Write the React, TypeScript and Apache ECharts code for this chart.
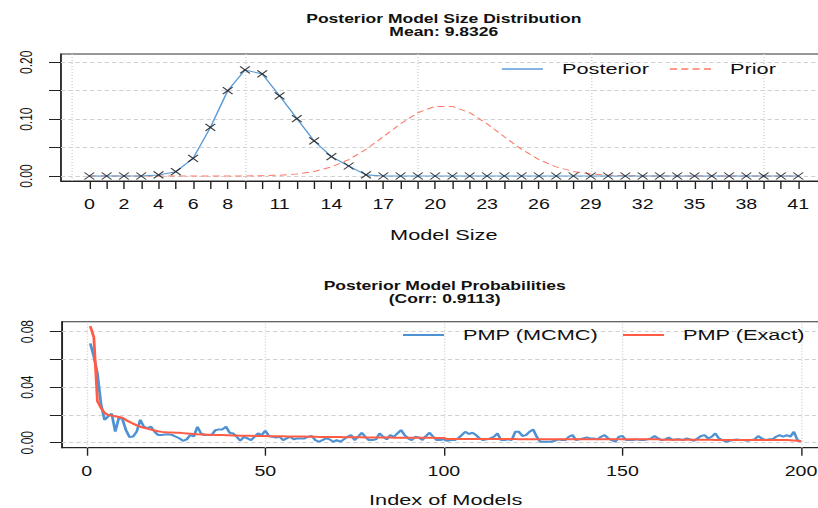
import React, { useEffect, useRef } from "react";
import * as echarts from "echarts";

// ---------- data ----------
const modelSizes = [0, 1, 2, 3, 4, 5, 6, 7, 8, 9, 10, 11, 12, 13, 14, 15, 16, 17, 18, 19, 20, 21, 22, 23, 24, 25, 26, 27, 28, 29, 30, 31, 32, 33, 34, 35, 36, 37, 38, 39, 40, 41];
const sizeTickLabels = [0, 2, 4, 6, 8, 11, 14, 17, 20, 23, 26, 29, 32, 35, 38, 41];
const sizeGridLines = [-1, 9, 19, 29, 39];
const posteriorProb = [
  0, 0, 0, 0, 0.0018, 0.0076, 0.031, 0.0856, 0.15, 0.1865,
  0.1795, 0.141, 0.101, 0.0616, 0.034, 0.0176, 0.002, 0, 0, 0,
  0, 0, 0, 0, 0, 0, 0, 0, 0, 0,
  0, 0, 0, 0, 0, 0, 0, 0, 0, 0,
  0, 0,
];
const priorProb = [
  0, 0, 0, 0, 0, 0, 0, 0, 0.00004, 0.00016,
  0.00051, 0.0014, 0.0036, 0.008, 0.016, 0.0288, 0.0469, 0.069, 0.0919, 0.1113,
  0.1224, 0.1224, 0.1113, 0.0919, 0.069, 0.0469, 0.0288, 0.016, 0.008, 0.0036,
  0.0014, 0.00051, 0.00016, 0.00004, 0, 0, 0, 0, 0, 0,
  0, 0,
];
const sizeYTicks = [0, 0.05, 0.1, 0.15, 0.2];
const sizeYLabels = [0, 0.1, 0.2];

const pmpMcmc = [
  0.0716, 0.062, 0.05, 0.028, 0.0165, 0.019, 0.021, 0.008, 0.018, 0.017,
  0.009, 0.004, 0.0045, 0.008, 0.0165, 0.0115, 0.0105, 0.0115, 0.008, 0.0055,
  0.0055, 0.006, 0.006, 0.0055, 0.0043, 0.003, 0.0014, 0.0024, 0.0055, 0.0045,
  0.0115, 0.0067, 0.0055, 0.0055, 0.0055, 0.009, 0.0096, 0.0096, 0.0115, 0.0072,
  0.0067, 0.0043, 0.0014, 0.0043, 0.0031, 0.0019, 0.0043, 0.0067, 0.0055, 0.0087,
  0.0048, 0.0043, 0.0038, 0.0043, 0.0019, 0.0031, 0.0043, 0.0024, 0.0031, 0.0031,
  0.0031, 0.0043, 0.0048, 0.0019, 0.0007, 0.0019, 0.0031, 0.0024, 0.0007, 0.0019,
  0.0007, 0.0024, 0.0043, 0.0055, 0.0019, 0.0043, 0.0072, 0.0043, 0.0019, 0.0019,
  0.0024, 0.0067, 0.0043, 0.0024, 0.0055, 0.0043, 0.0067, 0.0091, 0.0055, 0.0031,
  0.0019, 0.0043, 0.0038, 0.0019, 0.0048, 0.0072, 0.0043, 0.0019, 0.0019, 0.0024,
  0.0014, 0.0019, 0.0019, 0.0031, 0.0055, 0.0079, 0.0062, 0.0072, 0.0055, 0.0031,
  0.0019, 0.0024, 0.0031, 0.0043, 0.0067, 0.0019, 0.0019, 0.0024, 0.0019, 0.0079,
  0.0079, 0.0048, 0.0055, 0.0079, 0.0096, 0.0043, 0.0007, 0.0007, 0.0007, 0.0007,
  0.0014, 0.0024, 0.0019, 0.0019, 0.0043, 0.0055, 0.0019, 0.0024, 0.0031, 0.0038,
  0.0031, 0.0031, 0.0024, 0.0043, 0.0055, 0.0031, 0.0019, 0.0007, 0.0043, 0.0048,
  0.0019, 0.0019, 0.0019, 0.0024, 0.0019, 0.0019, 0.0024, 0.0031, 0.0048, 0.0031,
  0.0019, 0.0024, 0.0038, 0.0019, 0.0024, 0.0024, 0.0019, 0.0031, 0.0024, 0.0014,
  0.0031, 0.0048, 0.0055, 0.0031, 0.0043, 0.0067, 0.0031, 0.0019, 0.0007, 0.0014,
  0.0019, 0.0024, 0.0019, 0.0019, 0.0014, 0.0019, 0.0024, 0.0048, 0.0031, 0.0019,
  0.0024, 0.0024, 0.0043, 0.0055, 0.0043, 0.0055, 0.0043, 0.0079, 0.0019, 0.0007,
];
const pmpExact = [
  0.084, 0.076, 0.03, 0.025, 0.0215, 0.02, 0.0195, 0.019, 0.0185, 0.018,
  0.0163, 0.015, 0.0137, 0.0125, 0.0115, 0.0108, 0.0101, 0.0094, 0.0088, 0.0082,
  0.0078, 0.0076, 0.0074, 0.0073, 0.0072, 0.0071, 0.0069, 0.0067, 0.0065, 0.0063,
  0.0061, 0.006, 0.0059, 0.0058, 0.0057, 0.0056, 0.0055, 0.0055, 0.0054, 0.0053,
  0.0052, 0.0052, 0.0051, 0.0051, 0.005, 0.005, 0.0049, 0.0049, 0.0048, 0.0048,
  0.0047, 0.0047, 0.0046, 0.0046, 0.0046, 0.0045, 0.0045, 0.0045, 0.0044, 0.0044,
  0.0044, 0.0043, 0.0043, 0.0043, 0.0042, 0.0042, 0.0042, 0.0041, 0.0041, 0.0041,
  0.0041, 0.004, 0.004, 0.004, 0.0039, 0.0039, 0.0039, 0.0038, 0.0038, 0.0038,
  0.0038, 0.0037, 0.0037, 0.0037, 0.0037, 0.0036, 0.0036, 0.0036, 0.0036, 0.0036,
  0.0036, 0.0036, 0.0035, 0.0035, 0.0035, 0.0035, 0.0035, 0.0034, 0.0034, 0.0034,
  0.0026, 0.0026, 0.0026, 0.0026, 0.0026, 0.0026, 0.0026, 0.0026, 0.0026, 0.0026,
  0.0026, 0.0026, 0.0026, 0.0026, 0.0026, 0.0026, 0.0026, 0.0026, 0.0026, 0.0026,
  0.0025, 0.0025, 0.0025, 0.0025, 0.0025, 0.0025, 0.0025, 0.0025, 0.0025, 0.0025,
  0.0025, 0.0025, 0.0025, 0.0025, 0.0025, 0.0025, 0.0025, 0.0025, 0.0025, 0.0025,
  0.0024, 0.0024, 0.0024, 0.0024, 0.0024, 0.0024, 0.0024, 0.0024, 0.0024, 0.0024,
  0.0024, 0.0024, 0.0024, 0.0024, 0.0024, 0.0024, 0.0024, 0.0024, 0.0024, 0.0024,
  0.0022, 0.0022, 0.0022, 0.0022, 0.0022, 0.0022, 0.0022, 0.0022, 0.0022, 0.0022,
  0.0022, 0.0022, 0.0022, 0.0022, 0.0022, 0.002, 0.002, 0.002, 0.002, 0.002,
  0.002, 0.002, 0.002, 0.002, 0.002, 0.002, 0.002, 0.002, 0.002, 0.002,
  0.0019, 0.0019, 0.0019, 0.0019, 0.0019, 0.0019, 0.0018, 0.0016, 0.0014, 0.0012,
];
const indexTicks = [0, 50, 100, 150, 200];
const pmpYTicks = [0, 0.02, 0.04, 0.06, 0.08];
const pmpYLabels = [0, 0.04, 0.08];

// ---------- layout (page is stretched horizontally like the reference) ----------
const W = 584;
const H = 508;
const S = 818 / W;
const u = (px: number) => px / S;
const FONT = '"Liberation Sans", Arial, Helvetica, sans-serif';
const INK = "#111";
const BLUE_TOP = "#5b9bd5";
const BLUE = "#4f92d3";
const RED = "#ff5b45";
const RED_LIGHT = "#ff7a68";
const GRID_COLOR = "#d0d0d0";

export default function App() {
  const ref = useRef<HTMLDivElement>(null);

  useEffect(() => {
    if (!ref.current) return;
    const chart = echarts.init(ref.current, null, { renderer: "svg", width: W, height: H });

    const postPairs = modelSizes.map((k, i) => [k, posteriorProb[i]]);
    const priorPairs = modelSizes.map((k, i) => [k, priorProb[i]]);
    const mcmcPairs = pmpMcmc.map((v, i) => [i + 1, v]);
    const exactPairs = pmpExact.map((v, i) => [i + 1, v]);

    const hLine = { color: GRID_COLOR, width: 1, type: [3, 2.2] };
    const vLine = { color: GRID_COLOR, width: 1, type: [1, 2] };
    const markGrid = (xs: number[], ys: number[]) => ({
      silent: true,
      z: 1,
      symbol: ["none", "none"],
      label: { show: false },
      emphasis: { disabled: true },
      animation: false,
      data: [
        ...xs.map((v) => ({ xAxis: v, lineStyle: vLine })),
        ...ys.map((v) => ({ yAxis: v, lineStyle: hLine })),
      ],
    });

    const axisLineStyle = { color: "#222", width: 1 };
    const tickLabel = { color: INK, fontFamily: FONT };

    const legendBase = {
      padding: 0,
      itemHeight: 1.5,
      itemWidth: u(41),
      symbolKeepAspect: false,
      selectedMode: false,
      itemStyle: { borderWidth: 0 },
      textStyle: { fontSize: 15.5, fontFamily: FONT, color: INK, padding: [0, 0, 0, 8.6] },
    };
    const dashIcon = "path://M0 0h5v1h-5z M8 0h5v1h-5z M16 0h5v1h-5z M24 0h5v1h-5z";
    const solidIcon = "path://M0 0H30V1H0Z";
    const titleStyle = { fontSize: 12.5, fontWeight: "bold", lineHeight: 13, color: INK, fontFamily: FONT };

    const option: any = {
      animation: false,
      backgroundColor: "#ffffff",
      textStyle: { fontFamily: FONT },
      title: [
        {
          text: "Posterior Model Size Distribution\nMean: 9.8326",
          left: u(443.8),
          top: 12,
          textAlign: "center",
          padding: 0,
          textStyle: titleStyle,
        },
        {
          text: "Posterior Model Probabilities\n(Corr: 0.9113)",
          left: u(444.7),
          top: 278.5,
          textAlign: "center",
          padding: 0,
          textStyle: titleStyle,
        },
      ],
      legend: [
        { ...legendBase, left: u(502), top: 61, data: [{ name: "Posterior", icon: solidIcon }] },
        { ...legendBase, left: u(670), top: 61, data: [{ name: "Prior", icon: dashIcon }] },
        { ...legendBase, itemHeight: 2, left: u(403), top: 327, data: [{ name: "PMP (MCMC)", icon: solidIcon }] },
        { ...legendBase, itemHeight: 2, left: u(623), top: 327, data: [{ name: "PMP (Exact)", icon: solidIcon }] },
      ],
      grid: [
        {
          left: u(61),
          top: 54,
          width: u(765.6),
          height: 127,
          show: true,
          borderColor: "#333",
          borderWidth: 1,
          backgroundColor: "transparent",
          outerBoundsMode: "none",
          containLabel: false,
        },
        {
          left: u(61.84),
          top: 321.7,
          width: u(767.6),
          height: 126,
          show: true,
          borderColor: "#333",
          borderWidth: 1,
          backgroundColor: "transparent",
          outerBoundsMode: "none",
          containLabel: false,
        },
      ],
      xAxis: [
        {
          type: "value",
          gridIndex: 0,
          min: -1.64,
          max: 42.64,
          axisLine: { show: true, onZero: false, lineStyle: axisLineStyle },
          axisTick: { show: true, length: 8, customValues: modelSizes, lineStyle: axisLineStyle },
          axisLabel: { ...tickLabel, customValues: sizeTickLabels, margin: 16, fontSize: 14, hideOverlap: false },
          splitLine: { show: false },
          name: "Model Size",
          nameLocation: "middle",
          nameGap: 45.5,
          nameTextStyle: { fontSize: 15.5, color: INK, fontFamily: FONT },
        },
        {
          type: "value",
          gridIndex: 1,
          min: -6.96,
          max: 207.96,
          axisLine: { show: true, onZero: false, lineStyle: axisLineStyle },
          axisTick: { show: true, length: 8, customValues: indexTicks, lineStyle: axisLineStyle },
          axisLabel: { ...tickLabel, customValues: indexTicks, margin: 16.5, fontSize: 14, hideOverlap: false },
          splitLine: { show: false },
          name: "Index of Models",
          nameLocation: "middle",
          nameGap: 43.5,
          nameTextStyle: { fontSize: 15.5, color: INK, fontFamily: FONT },
        },
      ],
      yAxis: [
        {
          type: "value",
          gridIndex: 0,
          min: -0.0088,
          max: 0.2146,
          axisLine: { show: true, onZero: false, lineStyle: axisLineStyle },
          axisTick: { show: true, length: u(12), customValues: sizeYTicks, lineStyle: axisLineStyle },
          axisLabel: {
            ...tickLabel,
            customValues: sizeYLabels,
            rotate: 90,
            margin: 18.5,
            fontSize: 12,
            hideOverlap: false,
            formatter: (v: number) => v.toFixed(2),
          },
          splitLine: { show: false },
        },
        {
          type: "value",
          gridIndex: 1,
          min: -0.0036,
          max: 0.0872,
          axisLine: { show: true, onZero: false, lineStyle: axisLineStyle },
          axisTick: { show: true, length: u(12), customValues: pmpYTicks, lineStyle: axisLineStyle },
          axisLabel: {
            ...tickLabel,
            customValues: pmpYLabels,
            rotate: 90,
            margin: 18.5,
            fontSize: 12,
            hideOverlap: false,
            formatter: (v: number) => v.toFixed(2),
          },
          splitLine: { show: false },
        },
      ],
      series: [
        {
          name: "Posterior",
          type: "line",
          xAxisIndex: 0,
          yAxisIndex: 0,
          data: postPairs,
          symbol: "none",
          color: BLUE_TOP,
          lineStyle: { color: BLUE_TOP, width: 1.1 },
          silent: true,
          z: 3,
          markLine: markGrid(sizeGridLines, sizeYTicks),
        },
        {
          name: "Prior",
          type: "line",
          xAxisIndex: 0,
          yAxisIndex: 0,
          data: priorPairs,
          symbol: "none",
          color: RED_LIGHT,
          lineStyle: { color: RED_LIGHT, width: 1, type: [5, 3] },
          silent: true,
          z: 2,
        },
        {
          name: "posterior points",
          type: "scatter",
          xAxisIndex: 0,
          yAxisIndex: 0,
          data: postPairs,
          symbol: "path://M0 0L10 10M10 0L0 10",
          symbolSize: 7,
          itemStyle: { color: "rgba(0,0,0,0)", borderColor: "#111", borderWidth: 1 },
          silent: true,
          z: 4,
        },
        {
          name: "PMP (MCMC)",
          type: "line",
          xAxisIndex: 1,
          yAxisIndex: 1,
          data: mcmcPairs,
          symbol: "none",
          color: BLUE,
          lineStyle: { color: BLUE, width: 2 },
          silent: true,
          z: 3,
          markLine: markGrid(indexTicks, pmpYTicks),
        },
        {
          name: "PMP (Exact)",
          type: "line",
          xAxisIndex: 1,
          yAxisIndex: 1,
          data: exactPairs,
          symbol: "none",
          color: RED,
          lineStyle: { color: RED, width: 2 },
          silent: true,
          z: 4,
        },
      ],
    };

    chart.setOption(option);
    return () => chart.dispose();
  }, []);

  return (
    <div
      ref={ref}
      style={{
        position: "fixed",
        left: 0,
        top: 0,
        width: W,
        height: H,
        transform: `scaleX(${S})`,
        transformOrigin: "0 0",
      }}
    />
  );
}
